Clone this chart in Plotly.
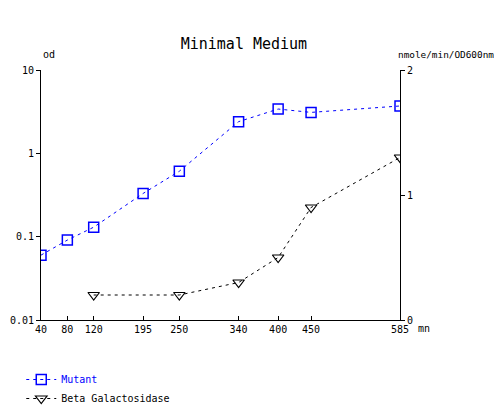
import plotly.graph_objects as go

# time points (mn)
mutant_t = [40, 80, 120, 195, 250, 340, 400, 450, 585]
mutant_od = [0.06, 0.091, 0.13, 0.33, 0.61, 2.4, 3.4, 3.1, 3.7]

beta_t = [120, 250, 340, 400, 450, 585]
beta_activity = [0.2, 0.2, 0.3, 0.5, 0.9, 1.3]

x_ticks = [40, 80, 120, 195, 250, 340, 400, 450, 585]
od_ticks = [0.01, 0.1, 1, 10]
od_labels = ["0.01", "0.1", "1", "10"]
beta_ticks = [0, 1, 2]

font = "DejaVu Sans Mono"

fig = go.Figure()
fig.add_trace(go.Scatter(
    x=mutant_t, y=mutant_od, name="<span style='color:#0000ff'>Mutant</span>",
    mode="lines+markers",
    line=dict(color="#0000ff", width=1, dash="3px,4px"),
    marker=dict(symbol="square-open", size=10, color="#0000ff", line=dict(width=1.5)),
))
fig.add_trace(go.Scatter(
    x=beta_t, y=beta_activity, name="Beta Galactosidase", yaxis="y2",
    mode="lines+markers",
    line=dict(color="black", width=1, dash="3px,4px"),
    marker=dict(symbol="triangle-down-open", size=10, color="black", line=dict(width=1.2)),
))

# page body has an 8px margin; figure is a bit taller than the window so the
# legend fits without pushing the margins
fig.update_layout(
    width=502, height=420,
    margin=dict(l=33, r=110, t=62, b=108),
    paper_bgcolor="white", plot_bgcolor="white",
    font=dict(family=font, size=10, color="black"),
    title=dict(text="Minimal Medium", x=0.47, xanchor="center", y=0.915, yanchor="middle",
               font=dict(family=font, size=15)),
    xaxis=dict(range=[40, 585], tickvals=x_ticks, showgrid=False, zeroline=False,
               showline=True, linecolor="black", linewidth=1, automargin=False,
               ticks="inside", ticklen=4, tickcolor="black"),
    yaxis=dict(type="log", range=[-2, 1], tickvals=od_ticks, ticktext=od_labels,
               showgrid=False, zeroline=False, showline=True, linecolor="black", linewidth=1,
               automargin=False, ticks="outside", ticklen=4, tickcolor="black"),
    yaxis2=dict(overlaying="y", side="right", range=[0, 2], tickvals=beta_ticks,
                showgrid=False, zeroline=False, showline=True, linecolor="black", linewidth=1,
                automargin=False, ticks="outside", ticklen=4, tickcolor="black"),
    legend=dict(x=-0.055, y=-0.18, xanchor="left", yanchor="top", itemwidth=30,
                font=dict(family=font, size=10)),
    showlegend=True,
)

fig.add_annotation(text="od", xref="paper", yref="paper", x=0.0, y=1.03,
                   xanchor="left", yanchor="bottom", showarrow=False)
fig.add_annotation(text="nmole/min/OD600nm", xref="paper", yref="paper", x=0.99, y=1.03,
                   xanchor="left", yanchor="bottom", showarrow=False, font=dict(size=9.4))
fig.add_annotation(text="mn", xref="paper", yref="paper", x=1.045, y=-0.005,
                   xanchor="left", yanchor="top", showarrow=False)

fig.write_html("out.html")
